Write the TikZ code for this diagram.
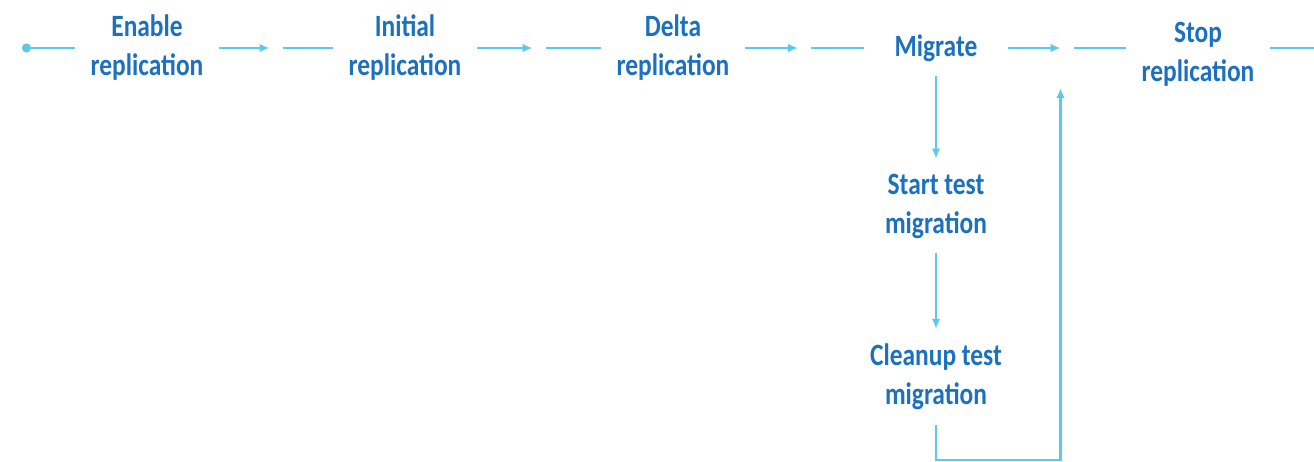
\documentclass[tikz,border=0pt]{standalone}
\usepackage{fontspec}
\newfontfamily\stagefont[FakeStretch=0.82]{Carlito}
\usepackage{tikz}
\usetikzlibrary{positioning,calc,arrows.meta}

\definecolor{stageblue}{RGB}{27,112,192}
\definecolor{flowcyan}{RGB}{90,202,234}

\begin{document}
\begin{tikzpicture}[
    stage/.style={align=center, minimum width=114pt, inner sep=0pt, outer sep=15pt,
      text=stageblue, font=\stagefont\bfseries\fontsize{31}{39}\selectfont},
    flow/.style={draw=flowcyan, line width=2.4pt},
    tip/.style={-{Latex[length=10pt,width=8.5pt]}},
    on grid
  ]

    \path[use as bounding box, clip] (0,0) rectangle (1314pt,-462pt);

    % Main row
    \node[stage] (enable) at (147pt,-48pt) {Enable\\replication};
    \node[stage, right=258pt of enable] (initial) {Initial\\replication};
    \node[stage, right=268pt of initial] (delta) {Delta\\replication};
    \node[stage, right=263pt of delta] (migrate) {Migrate};
    \node[stage, right=262pt of migrate, yshift=-6pt] (stop) {Stop\\replication};

    % Test branch
    \node[stage, below=158pt of migrate] (starttest) {Start test\\migration};
    \node[stage, below=171pt of starttest] (cleanup) {Cleanup test\\migration};

    % Connectors
    \coordinate[left=53pt of enable.west] (start);
    \coordinate[right=53pt of stop.east |- migrate.east] (finish);
    \coordinate (bottom) at (0,-460pt);

    \draw[flow, {Circle[length=9pt]}-] (start) -- (enable.west);
    \foreach \a/\b in {enable/initial, initial/delta, delta/migrate, migrate/stop} {
      \coordinate (\a-gap) at ($(\a.east)!0.5!(\b.west |- \a.east)$);
      \draw[flow, tip] (\a.east) -- ([xshift=-6.5pt]\a-gap);
      \draw[flow] ([xshift=6.5pt]\a-gap) -- (\b.west |- \a.east);
    }
    \draw[flow] (stop.east |- migrate.east) -- (finish);

    \draw[flow, tip] (migrate.south) -- (starttest.north);
    \draw[flow, tip] (starttest.south) -- (cleanup.north);
    \draw[flow, tip] (cleanup.south) -- (cleanup.south |- bottom)
      -| ([shift={(-6.5pt,-40pt)}]migrate-gap);
  \end{tikzpicture}
\end{document}
